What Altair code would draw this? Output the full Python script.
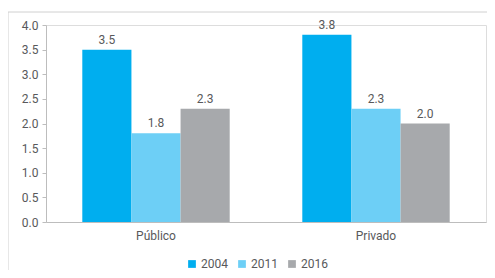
import altair as alt
import pandas as pd

categories = ["Público", "Privado"]
years = ["2004", "2011", "2016"]
values_2004 = [3.5, 3.8]
values_2011 = [1.8, 2.3]
values_2016 = [2.3, 2.0]
y_ticks = [0, 0.5, 1, 1.5, 2, 2.5, 3, 3.5, 4]
colors = ["#00AEEF", "#6DCFF6", "#A7A9AC"]

rows = []
for i, c in enumerate(categories):
    for y, vals in zip(years, [values_2004, values_2011, values_2016]):
        rows.append({"cat": c, "year": y, "value": vals[i]})
df = pd.DataFrame(rows)

FONT = "Roboto"
TXT = "#58595B"
FS = 12

xenc = alt.X("cat:N", sort=categories, title=None,
             scale=alt.Scale(paddingInner=0.33, paddingOuter=0.165),
             axis=alt.Axis(labelAngle=0, ticks=False, domainColor="#BDBDBD",
                           labelColor=TXT, labelFont=FONT, labelFontSize=FS,
                           labelPadding=8))

yenc = alt.Y("value:Q", title=None,
             scale=alt.Scale(domain=[0, 4]),
             axis=alt.Axis(values=y_ticks, format=".1f", tickCount=9,
                           grid=False, domainColor="#BDBDBD", tickColor="#BDBDBD",
                           tickSize=4, labelColor=TXT, labelFont=FONT,
                           labelFontSize=FS, labelPadding=4, labelOverlap=False))

base = alt.Chart(df).encode(
    x=xenc,
    y=yenc,
    xOffset=alt.XOffset("year:N", sort=years),
)

bars = base.mark_bar().encode(
    color=alt.Color("year:N", sort=years,
                    scale=alt.Scale(domain=years, range=colors),
                    legend=alt.Legend(orient="none", legendX=140, legendY=233,
                                      direction="horizontal", title=None,
                                      symbolType="square", symbolSize=60,
                                      symbolStrokeWidth=0, labelFont=FONT,
                                      labelFontSize=FS, labelColor=TXT,
                                      labelOffset=3, columnPadding=8)),
)

labels = base.mark_text(dy=-10, font=FONT, fontSize=FS, color=TXT).encode(
    text=alt.Text("value:Q", format=".1f"),
)

border = alt.Chart(pd.DataFrame({"a": [0]})).mark_rect(
    fill=None, stroke="#D0D0D0", strokeWidth=1, clip=False
).encode(
    x=alt.value(-38), x2=alt.value(444), y=alt.value(-13), y2=alt.value(275)
)

chart = alt.layer(bars, labels, border).properties(
    width=440, height=197,
    autosize=alt.AutoSizeParams(type="none"),
    padding={"left": 38, "top": 17, "right": 1, "bottom": 48},
).configure_view(stroke=None).configure(background="white")

chart.save("out.html", embed_options={"renderer": "svg", "actions": False})
